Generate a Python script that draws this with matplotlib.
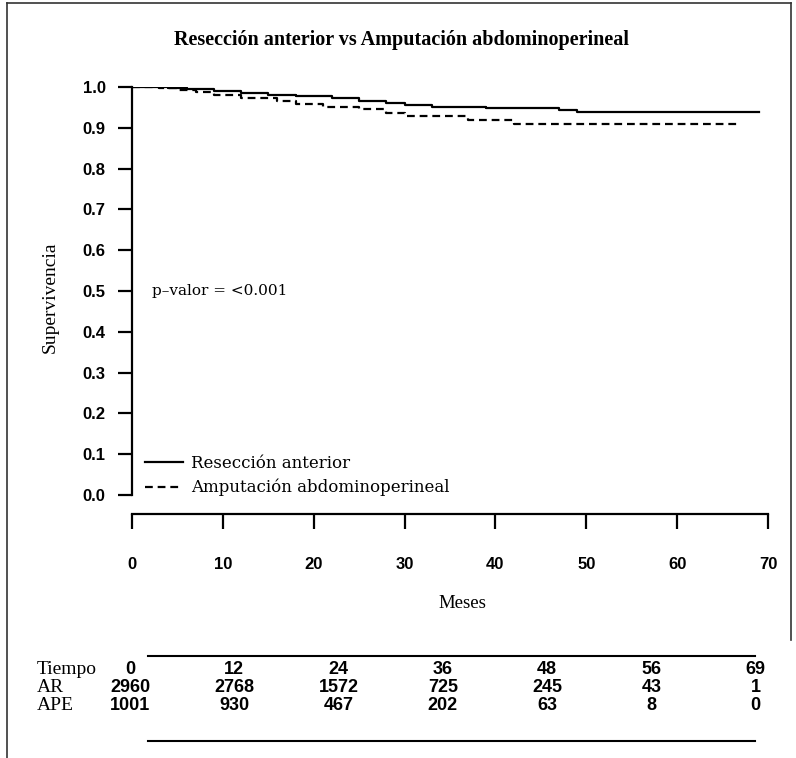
import matplotlib
matplotlib.use("Agg")
import matplotlib.pyplot as plt
from matplotlib.lines import Line2D

# ---- data ----
ar_t = [0, 4, 6, 9, 12, 15, 18, 22, 25, 28, 30, 33, 39, 47, 49, 69]
ar_s = [1.0, 0.998, 0.995, 0.990, 0.986, 0.981, 0.977, 0.972, 0.966, 0.960, 0.956, 0.952, 0.948, 0.944, 0.938, 0.938]
ape_t = [0, 3, 5, 7, 9, 12, 16, 18, 21, 25, 28, 30, 37, 42, 67]
ape_s = [1.0, 0.997, 0.993, 0.988, 0.980, 0.974, 0.966, 0.958, 0.952, 0.946, 0.937, 0.928, 0.920, 0.909, 0.909]

x_ticks = [0, 10, 20, 30, 40, 50, 60, 70]
y_ticks = [0.0, 0.1, 0.2, 0.3, 0.4, 0.5, 0.6, 0.7, 0.8, 0.9, 1.0]

risk_times = ["0", "12", "24", "36", "48", "56", "69"]
risk_ar = ["2960", "2768", "1572", "725", "245", "43", "1"]
risk_ape = ["1001", "930", "467", "202", "63", "8", "0"]

title = "Resección anterior vs Amputación abdominoperineal"
labels = ["Resección anterior", "Amputación abdominoperineal"]

W, H = 796, 758
fig = plt.figure(figsize=(W / 100, H / 100), dpi=100)
fig.patch.set_facecolor("white")

def fx(px):
    return px / W

def fy(py):
    return 1 - py / H

# frame lines (left, top, right)
fig.add_artist(Line2D([fx(7), fx(7)], [fy(3), fy(758)], color="#333333", lw=1.2))
fig.add_artist(Line2D([fx(7), fx(791)], [fy(3), fy(3)], color="#333333", lw=1.2))
fig.add_artist(Line2D([fx(791), fx(791)], [fy(3), fy(640)], color="#333333", lw=1.2))

# main axes
x0, x1 = 132, 768
y_top, y_bot = 87, 495
ax = fig.add_axes([fx(x0), fy(y_bot), fx(x1) - fx(x0), fy(y_top) - fy(y_bot)])
ax.set_xlim(0, 70)
ax.set_ylim(0, 1)
ax.patch.set_alpha(0)
for s in ["top", "right"]:
    ax.spines[s].set_visible(False)
ax.spines["left"].set_linewidth(1.6)
ax.spines["bottom"].set_linewidth(1.6)
ax.spines["bottom"].set_position(("outward", 13.5))
ax.spines["left"].set_bounds(0, 1)
ax.spines["bottom"].set_bounds(0, 70)

ax.step(ar_t, ar_s, where="post", color="black", lw=1.6, label=labels[0])
ax.step(ape_t, ape_s, where="post", color="black", lw=1.6,
        linestyle=(0, (3.5, 2.2)), label=labels[1])

tick_font = {"family": "Liberation Sans", "weight": "bold", "size": 12}
ax.set_xticks(x_ticks)
ax.set_xticklabels([str(v) for v in x_ticks], fontdict=tick_font)
ax.set_yticks(y_ticks)
ax.set_yticklabels([f"{v:.1f}" for v in y_ticks], fontdict=tick_font)
ax.tick_params(axis="y", direction="out", length=10, width=1.6, pad=9)
ax.tick_params(axis="x", direction="out", length=11, width=1.6, pad=20)

ax.text(2.2, 0.5, "p\u2013valor = <0.001", family="DejaVu Serif", fontsize=11,
        va="center", ha="left")

leg = ax.legend(loc="upper left", bbox_to_anchor=(fx(145), fy(455)),
                bbox_transform=fig.transFigure, frameon=False,
                prop={"family": "DejaVu Serif", "size": 12},
                handlelength=2.3, handletextpad=0.45, labelspacing=0.42,
                borderpad=0, borderaxespad=0)

fig.text(fx(402), fy(40), title, family="Liberation Serif", fontweight="bold",
         fontsize=14.5, ha="center", va="center")
fig.text(fx(462), fy(604), "Meses", family="Liberation Serif", fontsize=13.5,
         ha="center", va="center")
fig.text(fx(50), fy(297), "Supervivencia", family="Liberation Serif", fontsize=14,
         ha="center", va="center", rotation=90)

# risk table
fig.add_artist(Line2D([fx(148), fx(755)], [fy(656), fy(656)], color="black", lw=1.5))
fig.add_artist(Line2D([fx(148), fx(755)], [fy(741), fy(741)], color="black", lw=1.5))
col_x = [130 + i * 104.3 for i in range(len(risk_times))]
row_y = [669, 687, 705]
row_names = ["Tiempo", "AR", "APE"]
for name, yy in zip(row_names, row_y):
    fig.text(fx(37), fy(yy), name, family="Liberation Serif", fontsize=14,
             ha="left", va="center")
for row, yy in zip([risk_times, risk_ar, risk_ape], row_y):
    for cx, val in zip(col_x, row):
        fig.text(fx(cx), fy(yy), val, family="Liberation Sans", fontweight="bold",
                 fontsize=13, ha="center", va="center")

fig.savefig("out.png", dpi=100)
